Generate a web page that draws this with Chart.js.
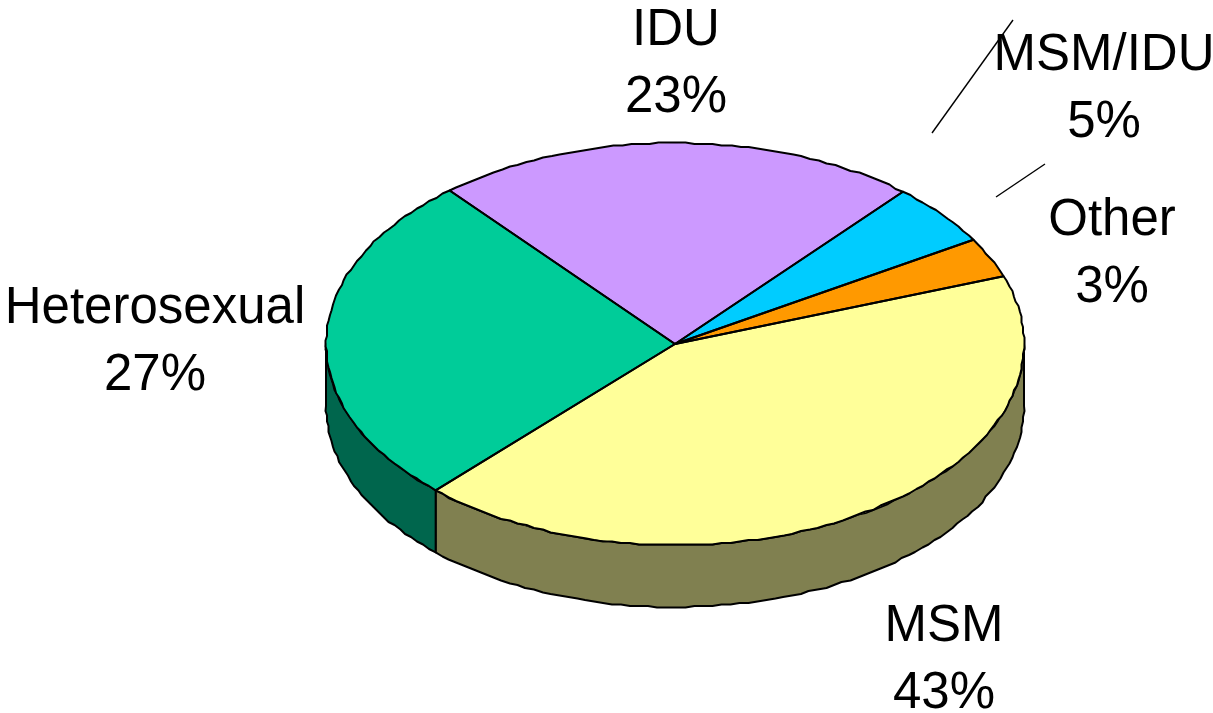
<!DOCTYPE html>
<html><head><meta charset="utf-8">
<style>html,body{margin:0;padding:0;background:#fff}canvas{display:block}</style>
<script src="https://cdn.jsdelivr.net/npm/chart.js@4"></script></head>
<body><canvas id="c" width="1213" height="713"></canvas>
<script>
const categories = ['MSM','Heterosexual','IDU','MSM/IDU','Other'];
const shares = [42.5,26.8,22.5,5.0,3.2];
const topColors = ['#FFFF99','#00CC99','#CC99FF','#00CCFF','#FF9900'];
const sideColors = ['#808050','#00664D','#664D80','#006680','#804D00'];
const labelAnchors = [[944,655],[155,337],[676,59],[1104,84],[1112,249]];
const leaders = [[932,133,1013,20],[996,197,1045,164]];
const startDegrees = 70.3, squash = 0.576, depth = 62, centerY = 344, grid = 1.5;

function project(ctx,a){ctx.translate(a.x,centerY);ctx.scale(1,squash);ctx.translate(-a.x,-a.y);}
const snap=v=>Math.round(v/grid)*grid;
// rim of the flattened pie as a slightly stepped polyline, like the reference outline
function rimPoints(a,s,e,dy){
  const pts=[], n=Math.max(2,Math.ceil(Math.abs(e-s)/(1.5*Math.PI/180)));
  for(let i=0;i<=n;i++){
    const t=s+(e-s)*i/n, x=a.x+a.outerRadius*Math.cos(t), y=centerY+squash*a.outerRadius*Math.sin(t)+dy;
    pts.push(i===0||i===n?[x,y]:[snap(x),snap(y)]);
  }
  return pts;
}
const pie3d = {
  id:'pie3d',
  beforeDatasetsDraw(chart){
    const ctx=chart.ctx, arcs=chart.getDatasetMeta(0).data;
    arcs.forEach((a,i)=>{
      [[Math.max(a.startAngle,0),Math.min(a.endAngle,Math.PI)],
       [Math.max(a.startAngle,2*Math.PI),Math.min(a.endAngle,3*Math.PI)]].forEach(([s,e])=>{
        if(e<=s) return;
        ctx.save();
        ctx.beginPath();
        rimPoints(a,s,e,0).concat(rimPoints(a,e,s,depth)).forEach((p,k)=>k?ctx.lineTo(p[0],p[1]):ctx.moveTo(p[0],p[1]));
        ctx.closePath();
        ctx.fillStyle=sideColors[i];ctx.fill();
        ctx.strokeStyle='#000';ctx.lineWidth=2;ctx.lineJoin='round';ctx.stroke();
        ctx.restore();
      });
    });
    ctx.save();project(ctx,arcs[0]);
  },
  afterDatasetsDraw(chart){
    const ctx=chart.ctx, arcs=chart.getDatasetMeta(0).data;
    ctx.restore();
    arcs.forEach(a=>{
      ctx.save();
      ctx.beginPath();
      ctx.moveTo(a.x,centerY);
      rimPoints(a,a.startAngle,a.endAngle,0).forEach(p=>ctx.lineTo(p[0],p[1]));
      ctx.closePath();
      ctx.strokeStyle='#000';ctx.lineWidth=2;ctx.lineJoin='round';ctx.stroke();
      ctx.restore();
    });
    ctx.save();
    ctx.strokeStyle='#000';ctx.lineWidth=1.4;
    leaders.forEach(l=>{ctx.beginPath();ctx.moveTo(l[0],l[1]);ctx.lineTo(l[2],l[3]);ctx.stroke();});
    ctx.fillStyle='#000';ctx.font='51px "Liberation Sans", Arial, sans-serif';
    ctx.textAlign='center';ctx.textBaseline='alphabetic';
    categories.forEach((n,i)=>{
      const [x,y]=labelAnchors[i];
      ctx.fillText(n,x,y-14);
      ctx.fillText(Math.round(shares[i])+'%',x,y+53);
    });
    ctx.restore();
  }
};
new Chart(document.getElementById('c'),{
  type:'pie',
  data:{labels:categories,datasets:[{data:shares,backgroundColor:topColors,borderWidth:0}]},
  options:{responsive:false,animation:false,events:[],rotation:startDegrees,
    layout:{padding:{left:137,top:0,right:0,bottom:15}},
    plugins:{legend:{display:false},tooltip:{enabled:false},title:{display:false}}},
  plugins:[pie3d]
});
</script></body></html>
